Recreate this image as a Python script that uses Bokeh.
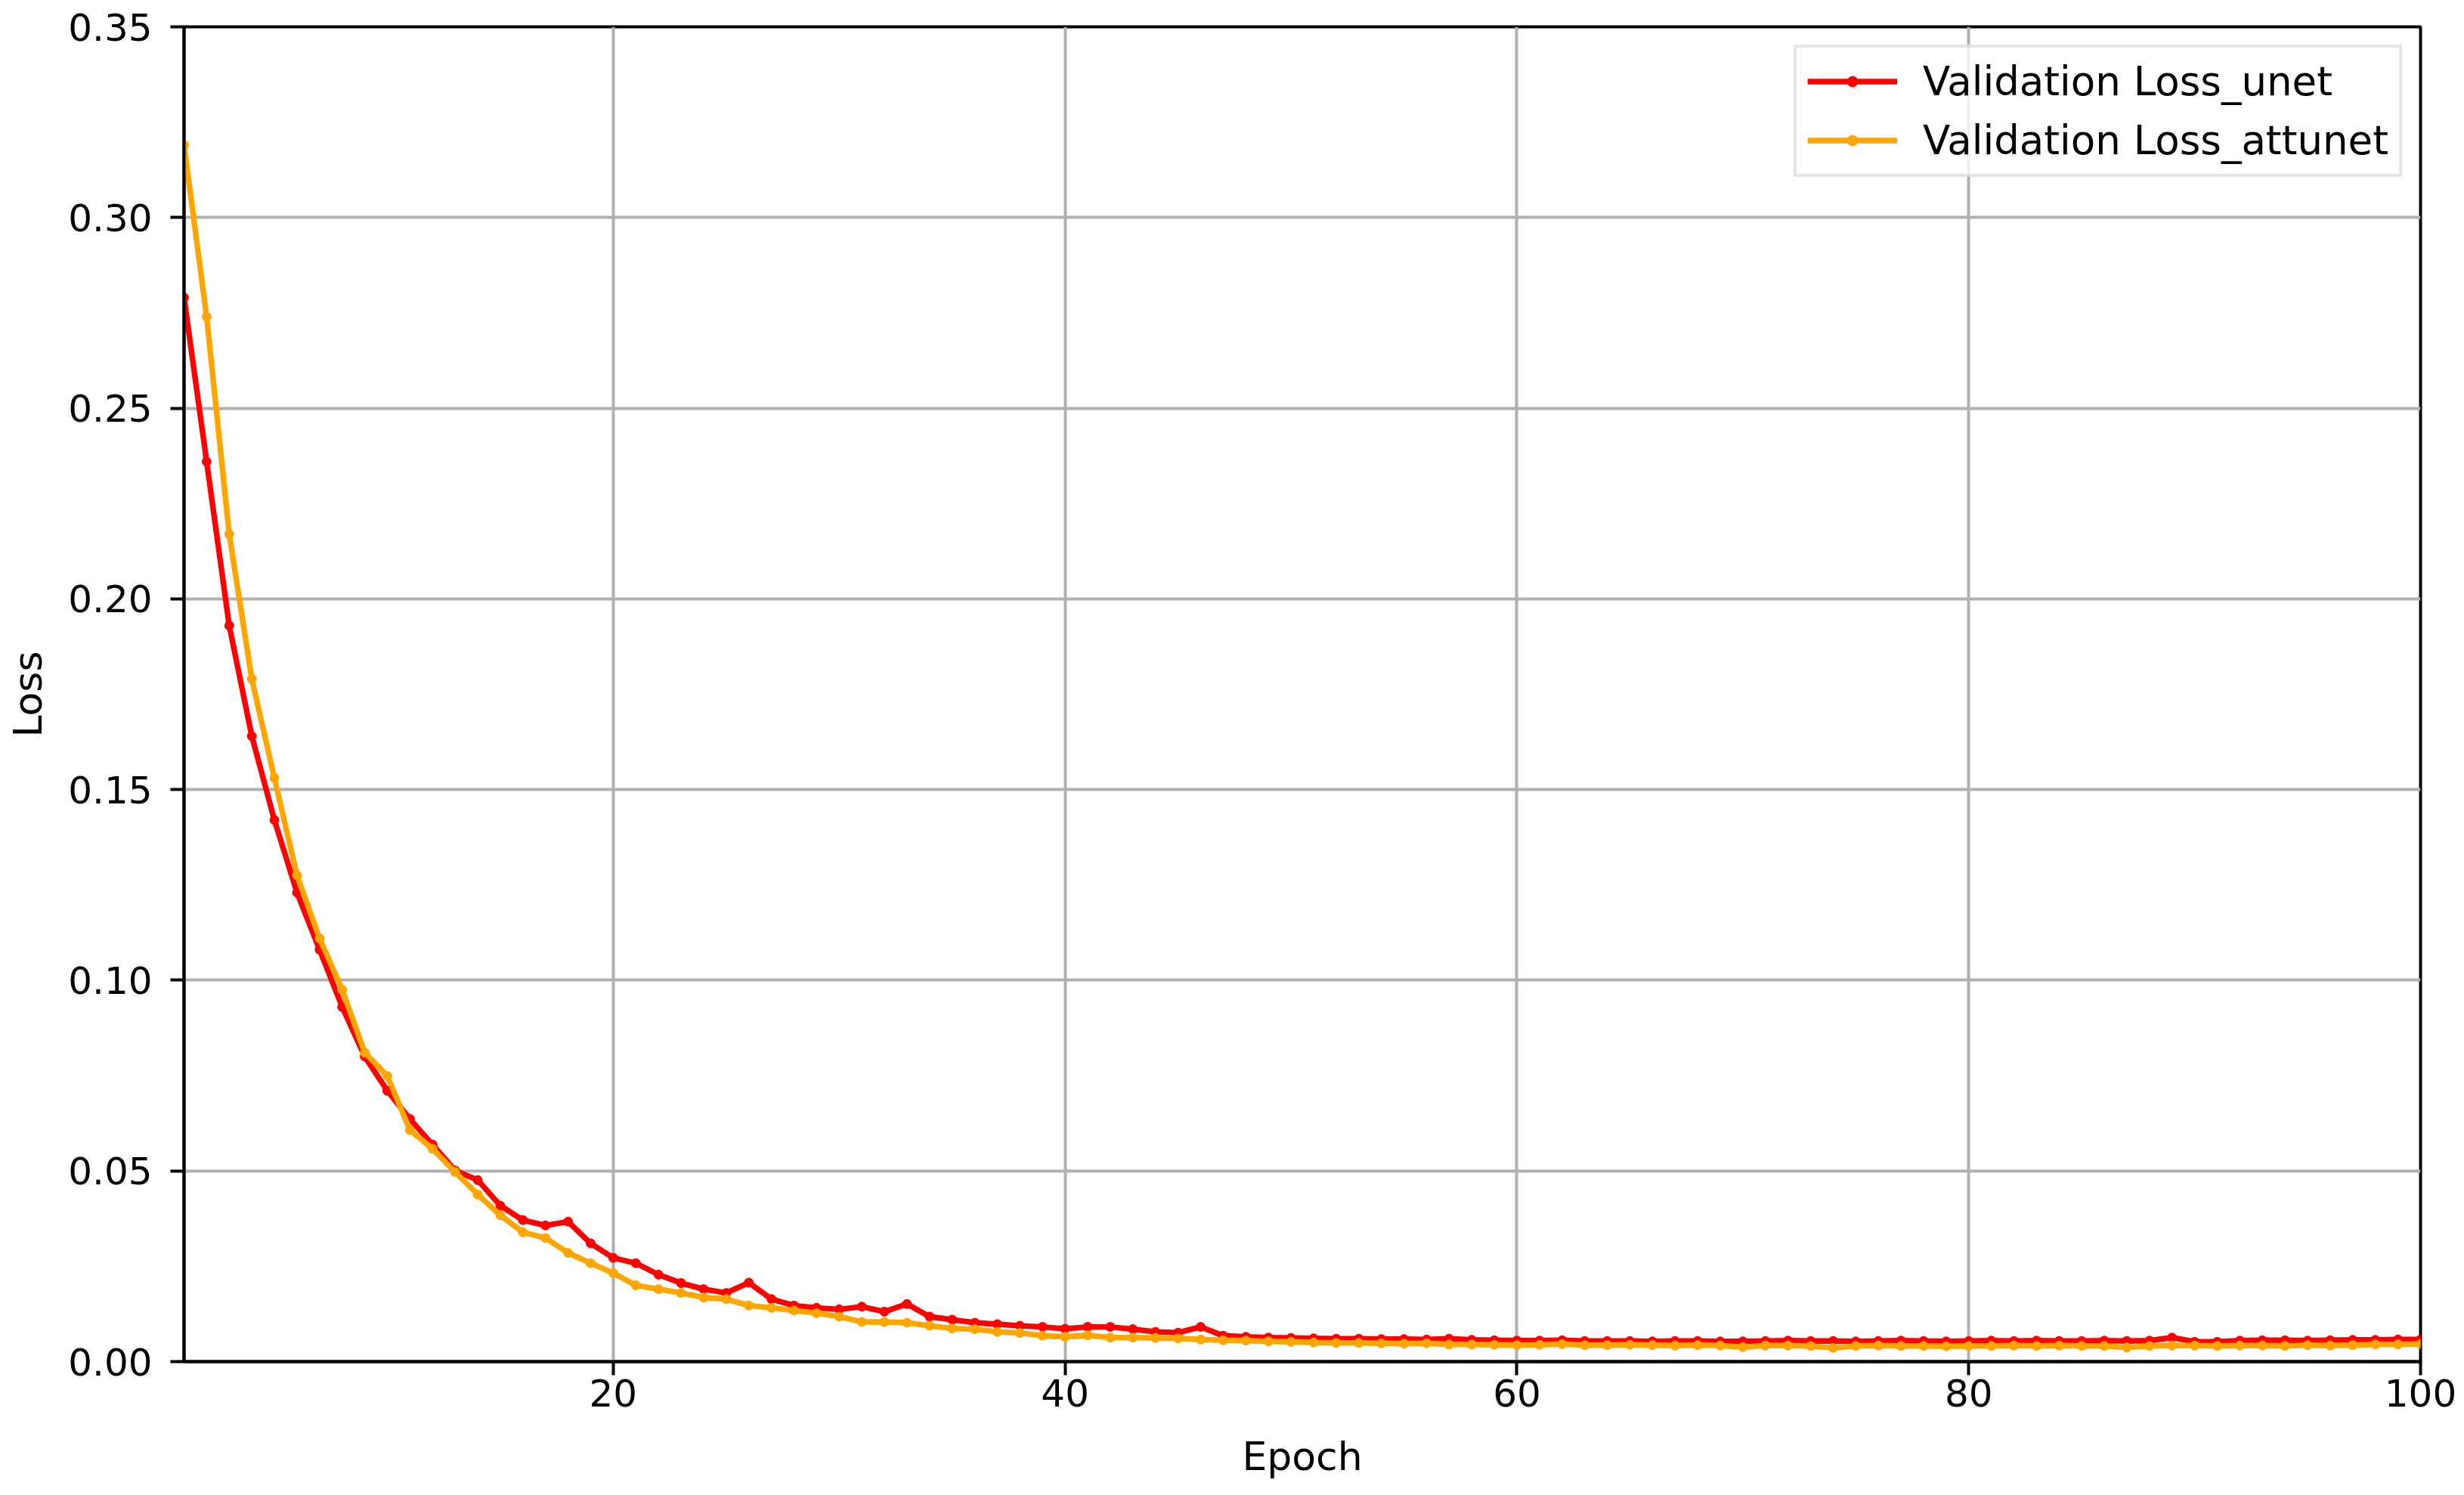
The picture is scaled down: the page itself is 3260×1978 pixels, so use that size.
from bokeh.plotting import figure
from bokeh.models import Range1d, FixedTicker, PrintfTickFormatter
from bokeh.embed import file_html
from bokeh.resources import INLINE

epochs = list(range(1, 101))

loss_unet = [
    0.279, 0.236, 0.193, 0.164, 0.142, 0.123, 0.108, 0.093, 0.080, 0.071,
    0.0636, 0.0569, 0.0501, 0.0476, 0.0409, 0.0371, 0.0357, 0.0367, 0.0310, 0.0272,
    0.0258, 0.0228, 0.0206, 0.0190, 0.0180, 0.0207, 0.0164, 0.0147, 0.0141, 0.0137,
    0.0144, 0.0131, 0.0151, 0.0118, 0.0110, 0.0102, 0.0098, 0.0094, 0.0091, 0.0086,
    0.0091, 0.0091, 0.0085, 0.0078, 0.0076, 0.0091, 0.0068, 0.0065, 0.0063, 0.0062,
    0.0061, 0.0060, 0.0060, 0.0059, 0.0059, 0.0058, 0.0060, 0.0057, 0.0056, 0.0055,
    0.0055, 0.0056, 0.0054, 0.0054, 0.0054, 0.0053, 0.0054, 0.0054, 0.0053, 0.0053,
    0.0054, 0.0055, 0.0054, 0.0054, 0.0053, 0.0054, 0.0055, 0.0054, 0.0053, 0.0054,
    0.0055, 0.0054, 0.0055, 0.0054, 0.0054, 0.0055, 0.0054, 0.0055, 0.0063, 0.0052,
    0.0052, 0.0055, 0.0056, 0.0056, 0.0055, 0.0056, 0.0057, 0.0057, 0.0058, 0.0058,
]

loss_attunet = [
    0.319, 0.274, 0.217, 0.179, 0.153, 0.1275, 0.111, 0.0975, 0.081, 0.0749,
    0.0607, 0.0558, 0.0497, 0.0438, 0.0384, 0.0339, 0.0324, 0.0285, 0.0258, 0.0232,
    0.0200, 0.0190, 0.0180, 0.0168, 0.0164, 0.0147, 0.0141, 0.0134, 0.0127, 0.0118,
    0.0104, 0.0104, 0.0102, 0.0094, 0.0087, 0.0085, 0.0078, 0.0075, 0.0068, 0.0065,
    0.0069, 0.0063, 0.0063, 0.0062, 0.0061, 0.0058, 0.0056, 0.0055, 0.0053, 0.0052,
    0.0050, 0.0049, 0.0049, 0.0048, 0.0047, 0.0048, 0.0045, 0.0045, 0.0044, 0.0043,
    0.0044, 0.0046, 0.0043, 0.0043, 0.0044, 0.0043, 0.0042, 0.0043, 0.0042, 0.0038,
    0.0042, 0.0042, 0.0041, 0.0036, 0.0041, 0.0042, 0.0041, 0.0041, 0.0040, 0.0041,
    0.0041, 0.0042, 0.0041, 0.0042, 0.0041, 0.0041, 0.0037, 0.0041, 0.0042, 0.0042,
    0.0041, 0.0042, 0.0042, 0.0041, 0.0043, 0.0042, 0.0043, 0.0045, 0.0045, 0.0046,
]

x_ticks = [20, 40, 60, 80, 100]
y_ticks = [0.0, 0.05, 0.10, 0.15, 0.20, 0.25, 0.30, 0.35]

FONT = "DejaVu Sans"

p = figure(width=3252, height=1972, output_backend="svg", toolbar_location=None,
           x_range=Range1d(1, 100), y_range=Range1d(0, 0.35),
           min_border_left=243, min_border_right=50, min_border_top=35, min_border_bottom=171)

p.background_fill_color = "white"
p.border_fill_color = "white"
p.outline_line_color = "black"
p.outline_line_width = 4

for g in (p.xgrid[0], p.ygrid[0]):
    g.grid_line_color = "#b0b0b0"
    g.grid_line_width = 4

p.xaxis.ticker = FixedTicker(ticks=x_ticks)
p.yaxis.ticker = FixedTicker(ticks=y_ticks)
p.yaxis.formatter = PrintfTickFormatter(format="%.2f")

for ax in (p.xaxis[0], p.yaxis[0]):
    ax.axis_line_color = "black"
    ax.axis_line_width = 4
    ax.major_tick_line_color = "black"
    ax.major_tick_line_width = 4
    ax.major_tick_out = 18
    ax.major_tick_in = 0
    ax.minor_tick_line_color = None
    ax.major_label_text_font = FONT
    ax.major_label_text_font_size = "50px"
    ax.major_label_text_color = "black"
    ax.axis_label_text_font = FONT
    ax.axis_label_text_font_size = "52px"
    ax.axis_label_text_font_style = "normal"
    ax.axis_label_text_color = "black"

p.xaxis.axis_label = "Epoch"
p.yaxis.axis_label = "Loss"
p.xaxis.major_label_standoff = 5
p.xaxis.axis_label_standoff = 33
p.yaxis.major_label_standoff = 24
p.yaxis.axis_label_standoff = 20

p.line(epochs, loss_unet, line_color="#ff0000", line_width=7.4, legend_label="Validation Loss_unet")
p.scatter(epochs, loss_unet, marker="circle", size=12, fill_color="#ff0000", line_color="#ff0000",
          line_width=1, legend_label="Validation Loss_unet")
p.line(epochs, loss_attunet, line_color="#ffa500", line_width=7.4, legend_label="Validation Loss_attunet")
p.scatter(epochs, loss_attunet, marker="circle", size=12, fill_color="#ffa500", line_color="#ffa500",
          line_width=1, legend_label="Validation Loss_attunet")

lg = p.legend[0]
lg.location = "top_right"
lg.margin = 24
lg.padding = 14
lg.spacing = 17
lg.glyph_width = 119
lg.glyph_height = 35
lg.label_height = 57
lg.label_standoff = 34
lg.label_text_font = FONT
lg.label_text_font_size = "53px"
lg.label_text_color = "black"
lg.border_line_color = "#cccccc"
lg.border_line_width = 4
lg.background_fill_color = "white"
lg.background_fill_alpha = 0.8

open("out.html", "w").write(file_html(p, INLINE))
